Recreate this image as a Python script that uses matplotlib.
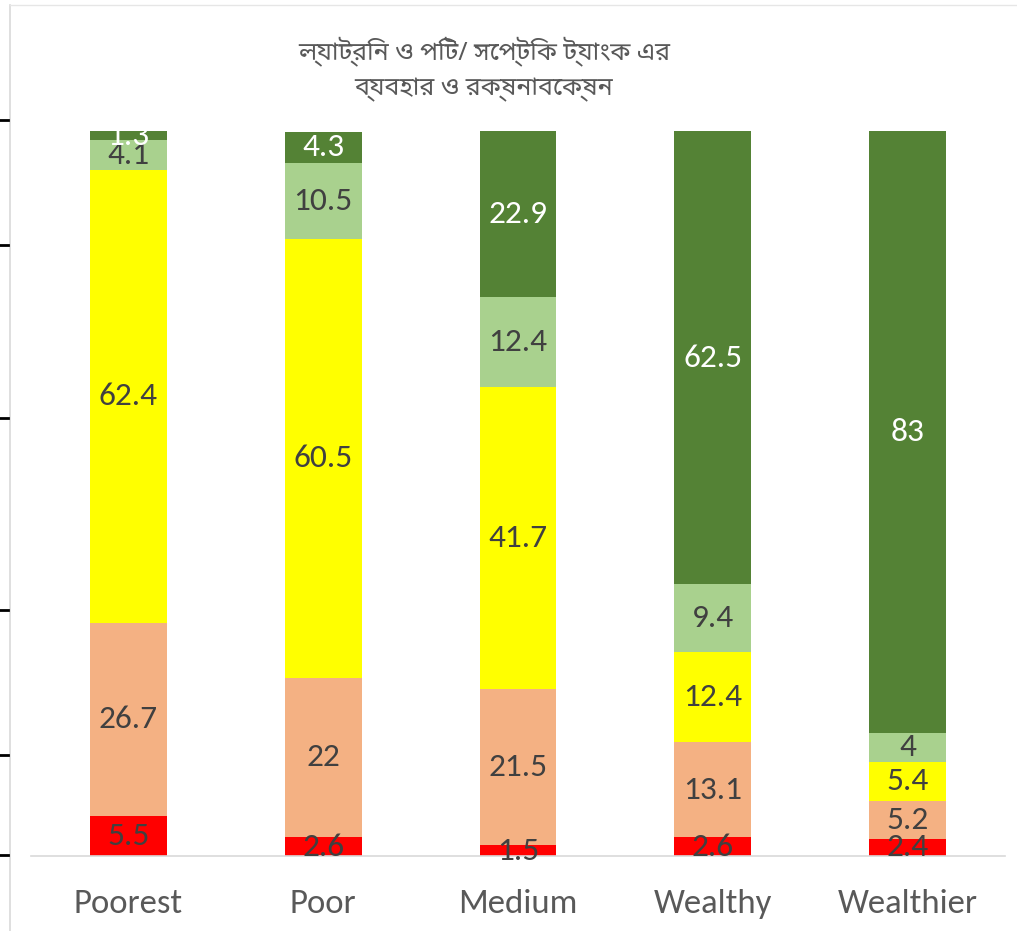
import matplotlib
matplotlib.use("Agg")
import matplotlib.pyplot as plt
from matplotlib import font_manager as fm
from matplotlib.lines import Line2D

categories = ["Poorest", "Poor", "Medium", "Wealthy", "Wealthier"]
red_vals = [5.5, 2.6, 1.5, 2.6, 2.4]
salmon_vals = [26.7, 22, 21.5, 13.1, 5.2]
yellow_vals = [62.4, 60.5, 41.7, 12.4, 5.4]
lightgreen_vals = [4.1, 10.5, 12.4, 9.4, 4]
darkgreen_vals = [1.3, 4.3, 22.9, 62.5, 83]
title_text = "ল্যাট্রিন ও পিট/ সেপ্টিক ট্যাংক এর\nব্যবহার ও রক্ষনাবেক্ষন"

series = [red_vals, salmon_vals, yellow_vals, lightgreen_vals, darkgreen_vals]
colors = ["#FF0000", "#F4B183", "#FFFF00", "#A9D18E", "#548235"]
label_colors = ["#404040", "#404040", "#404040", "#404040", "#FFFFFF"]

available = {f.name for f in fm.fontManager.ttflist}
num_font = [f for f in ["Carlito", "Open Sans", "DejaVu Sans"] if f in available]
ben_font = [f for f in ["Noto Sans Bengali", "Lohit Bengali", "Hind Siliguri", "FreeSans", "DejaVu Sans"] if f in available]

fig = plt.figure(figsize=(10.17, 9.31), dpi=100)
ax = fig.add_axes([31/1017, 75/931, (1005-31)/1017, (856-131)/931])

x = list(range(len(categories)))
bottom = [0.0]*len(categories)
for vals, c, lc in zip(series, colors, label_colors):
    bars = ax.bar(x, vals, width=0.395, bottom=bottom, color=c, edgecolor="none", zorder=2)
    ax.bar_label(bars, labels=[("%g" % v) for v in vals], label_type="center",
                 color=lc, fontsize=24, family=num_font, zorder=3)
    bottom = [b + v for b, v in zip(bottom, vals)]

ax.set_xlim(-0.5, 4.5)
ax.set_ylim(0, 100)
ax.set_yticks([])
ax.set_xticks(x)
ax.set_xticklabels(categories, fontsize=25, color="#595959", family=num_font)
ax.tick_params(axis="x", length=0, pad=24)
for s in ["top", "right", "left"]:
    ax.spines[s].set_visible(False)
ax.spines["bottom"].set_color("#D9D9D9")
ax.spines["bottom"].set_linewidth(1.2)

fig.text(484/1017, 1 - 69/931, title_text, ha="center", va="center",
         fontsize=18, color="#595959", family=ben_font, linespacing=1.55)

# cropped-frame artifacts at the left edge of the screenshot
fig.add_artist(Line2D([10/1017, 10/1017], [0, 1 - 5/931], color="#D9D9D9", lw=1.2))
fig.add_artist(Line2D([10/1017, 1], [1 - 5/931, 1 - 5/931], color="#E6E6E6", lw=1.0))
for yy in [120, 245, 418, 610, 755, 855]:
    fig.add_artist(Line2D([0, 8/1017], [1 - yy/931, 1 - yy/931], color="black", lw=2))

fig.savefig("out.png", dpi=100)
